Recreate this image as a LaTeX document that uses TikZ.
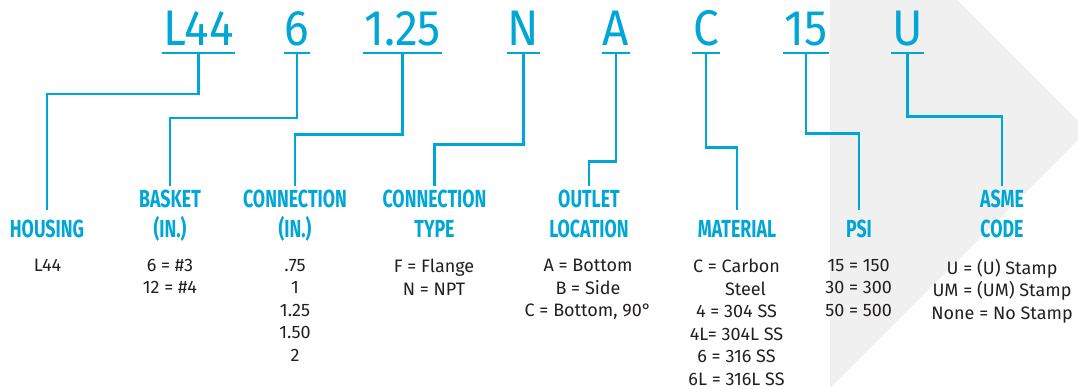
\documentclass[tikz,border=0pt]{standalone}
\usepackage{fontspec}
\setmainfont{Fira Sans}
\newfontfamily\headfont[FakeStretch=0.72]{Fira Sans}
\newfontfamily\codefamily[FakeStretch=0.92]{Fira Sans}
\definecolor{brand}{HTML}{00A6D6}
\definecolor{txt}{HTML}{231F20}
\definecolor{bg}{HTML}{F0F0F0}
\begin{document}
\begin{tikzpicture}[x=1pt,y=-1pt,
  code/.style={font=\codefamily\fontsize{50}{50}\selectfont, text=brand, anchor=base,
    inner xsep=1pt, inner ysep=7.3pt, text depth=0pt},
  uline/.style={draw=brand, line width=2.6pt},
  conn/.style={draw=brand, line width=2.6pt},
  head/.style={font=\headfont\bfseries\fontsize{24.7}{29.6}\selectfont, text=brand,
    align=center, anchor=north, inner sep=0pt},
  val/.style={font=\fontsize{18}{22.5}\selectfont, text=txt, align=center,
    anchor=north, inner sep=0pt}]
\useasboundingbox (0,0) rectangle (1078,388);
\begin{scope}
\clip (0,0) rectangle (1078,388);
\fill[bg] (830,0) -- (957,0) -- (1087.5,130.5) -- (830,388) -- cycle;
\end{scope}
% code letters
\node[code] (c1) at (198.5,45.5) {L44};
\node[code] (c2) at (297,45.5) {6};
\node[code] (c3) at (402.6,45.5) {1.25};
\node[code] (c4) at (523.5,45.5) {N};
\node[code] (c5) at (616,45.5) {A};
\node[code] (c6) at (706,45.5) {C};
\node[code] (c7) at (806,45.5) {15};
\node[code] (c8) at (907.5,45.5) {U};
\foreach \n in {c1,c2,c3,c4,c5,c6,c7,c8}
  \draw[uline] (\n.south west) -- (\n.south east);
% headings
\node[head] (h1) at (47,220) {HOUSING};
\node[head] (h2) at (170,190) {BASKET\\(IN.)};
\node[head] (h3) at (295,190) {CONNECTION\\(IN.)};
\node[head] (h4) at (434.5,190) {CONNECTION\\TYPE};
\node[head] (h5) at (589,190) {OUTLET\\LOCATION};
\node[head] (h6) at (737,220) {MATERIAL};
\node[head] (h7) at (859,220) {PSI};
\node[head] (h8) at (1002,190) {ASME\\CODE};
% connectors
\draw[conn] (c1.south) -- ++(0,41) -| ([yshift=10pt]h1.north);
\draw[conn] (c2.south) -- ++(0,64.8) -| ([yshift=4pt]h2.north);
\draw[conn] (c3.south) -- ++(0,81.2) -| ([yshift=4pt]h3.north);
\draw[conn] (c4.south) -- ++(0,91.7) -| ([yshift=4pt]h4.north);
\draw[conn] (c5.south) -- ++(0,108.2) -| ([yshift=4pt]h5.north);
\draw[conn] (c6.south) -- ++(0,94.2) -| ([yshift=10pt]h6.north);
\draw[conn] (c7.south) -- ++(0,80.2) -| ([yshift=10pt]h7.north);
\draw[conn] (c8.south) -- ++(0,63.2) -| ([yshift=4pt]h8.north);
% values
\node[val] (v1) at (47.5,259) {L44};
\node[val] (v2) at (170,259) {6 = \#3\\12 = \#4};
\node[val] (v3) at (295,259) {.75\\1\\1.25\\1.50\\2};
\node[val] (v4) at (434,259) {F = Flange\\N = NPT};
\node[val] (v5) at (588,259) {A = Bottom\\B = Side\\C = Bottom, 90°};
\node[val] (v6) at (736.5,259) {C = Carbon\\\hspace*{18pt}Steel\\4 = 304 SS\\4L= 304L SS\\6 = 316 SS\\6L = 316L SS};
\node[val] (v7) at (858.6,259) {15 = 150\\30 = 300\\50 = 500};
\node[val] (v8) at (1002,259) {U = (U) Stamp\\UM = (UM) Stamp\\None = No Stamp};
\end{tikzpicture}
\end{document}
